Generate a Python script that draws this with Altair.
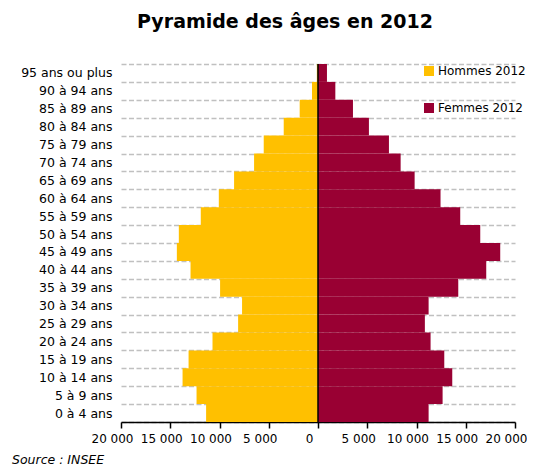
import altair as alt
import pandas as pd

# Age groups (bottom to top)
ages = ["0 à 4 ans", "5 à 9 ans", "10 à 14 ans", "15 à 19 ans", "20 à 24 ans",
        "25 à 29 ans", "30 à 34 ans", "35 à 39 ans", "40 à 44 ans", "45 à 49 ans",
        "50 à 54 ans", "55 à 59 ans", "60 à 64 ans", "65 à 69 ans", "70 à 74 ans",
        "75 à 79 ans", "80 à 84 ans", "85 à 89 ans", "90 à 94 ans", "95 ans ou plus"]
hommes = [11360, 12330, 13750, 13140, 10710, 8110, 7710, 9940, 12940, 14330,
          14130, 11900, 10070, 8520, 6490, 5510, 3480, 1860, 610, 120]
femmes = [11230, 12650, 13630, 12820, 11430, 10850, 11230, 14240, 17080, 18500,
          16470, 14440, 12440, 9810, 8390, 7200, 5170, 3550, 1760, 910]
series = ["Hommes 2012", "Femmes 2012"]
colors = ["#FFC000", "#990033"]
x_ticks = [-20000, -15000, -10000, -5000, 0, 5000, 10000, 15000, 20000]

rows = []
for a, h, f in zip(ages, hommes, femmes):
    rows.append({"age": a, "sexe": series[0], "pop": -h})
    rows.append({"age": a, "sexe": series[1], "pop": f})
df = pd.DataFrame(rows)

FONT = "DejaVu Sans"
order = list(reversed(ages))

bars = alt.Chart(df).mark_bar(strokeWidth=0).encode(
    x=alt.X("pop:Q",
            scale=alt.Scale(domain=[-20000, 20000], nice=False),
            axis=alt.Axis(values=x_ticks, title=None, grid=False,
                          labelExpr="replace(format(abs(datum.value), ',d'), ',', ' ')",
                          labelOverlap=False, labelFlush=False, labelOffset=-9,
                          domainColor="black", domainWidth=1.5,
                          tickColor="black", tickWidth=1.5, tickSize=6,
                          labelFont=FONT, labelFontSize=12, labelColor="black",
                          labelPadding=5)),
    y=alt.Y("age:N", sort=order,
            scale=alt.Scale(paddingInner=0, paddingOuter=0),
            axis=alt.Axis(title=None, domain=False, ticks=False, grid=True,
                          tickBand="extent", gridColor="#c0c0c0", gridWidth=1.5,
                          gridDash=[5, 2.5], labelFont=FONT, labelFontSize=12.5,
                          labelColor="black", labelPadding=9)),
    color=alt.Color("sexe:N",
                    scale=alt.Scale(domain=series, range=colors),
                    legend=alt.Legend(title=None, orient="none", legendX=302,
                                      legendY=1, padding=0, symbolType="square",
                                      symbolSize=100, symbolStrokeWidth=0,
                                      labelFont=FONT, labelFontSize=12,
                                      labelColor="black", labelOffset=3,
                                      rowPadding=25))
)

zero = alt.Chart(pd.DataFrame({"z": [0]})).mark_rule(color="black", strokeWidth=1.5).encode(
    x=alt.X("z:Q")
)

source = alt.Chart(pd.DataFrame({"t": ["Source : INSEE"]})).mark_text(
    align="left", baseline="alphabetic", font=FONT, fontSize=12.5, fontStyle="italic",
    color="black"
).encode(x=alt.value(-109), y=alt.value(400), text="t:N")

chart = alt.layer(bars, zero, source).properties(
    width=394, height=358,
    title=alt.TitleParams("Pyramide des âges en 2012", font=FONT, fontSize=19,
                          fontWeight="bold", color="black", anchor="middle",
                          dx=-33, offset=26),
    autosize=alt.AutoSizeParams(type="none"),
    padding={"left": 113, "top": 56, "right": 12, "bottom": 44}
).configure_view(stroke=None)

chart.save("out.html", embed_options={"renderer": "svg", "actions": False})
